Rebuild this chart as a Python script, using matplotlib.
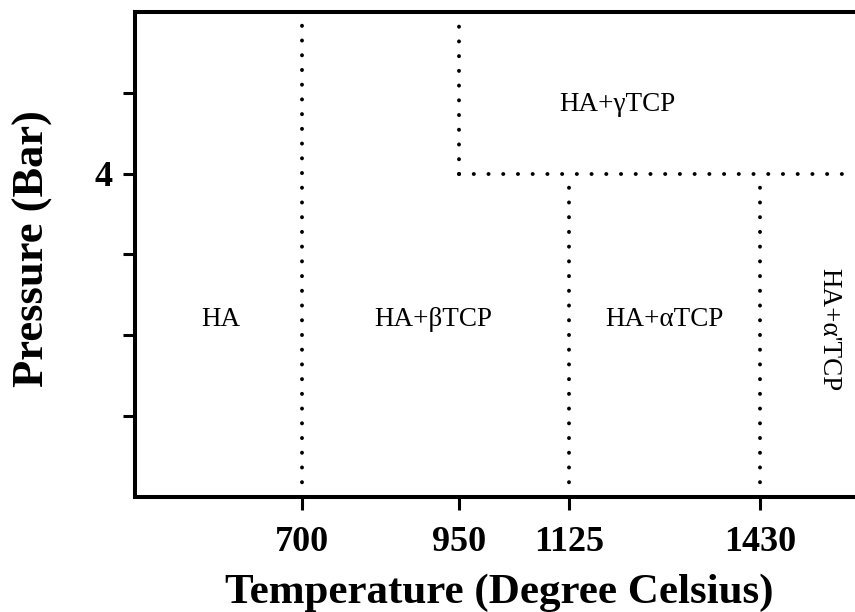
import matplotlib.pyplot as plt

# phase diagram data
x_ticks = [700, 950, 1125, 1430]
y_ticks = [1, 2, 3, 4, 5]
y_labels = ['', '', '', '4', '']

# boundaries (x, y from, y to)
bound_x = [700, 950, 1125, 1430]
bound_ylo = [0, 4, 0, 0]
bound_yhi = [6, 6, 4, 4]
# horizontal boundary at 4 bar, starting at 950
h_p = 4
h_x0 = 950

x_min, x_max = 434, 1581
y_min, y_max = 0, 6

phase_names = ['HA', 'HA+βTCP', 'HA+αTCP', 'HA+γTCP', "HA+α'TCP"]
phase_x = [570, 909, 1277, 1202, 1540]
phase_y = [2.2, 2.2, 2.2, 4.85, 2.07]
phase_rot = [0, 0, 0, 0, -90]

plt.rcParams['font.family'] = ['Liberation Serif', 'DejaVu Serif']

fig = plt.figure(figsize=(8.55, 6.12), dpi=100)
ax = fig.add_axes([0.158, 0.188, 0.842, 0.7925])

lw = 2.8
dots = (0, (0.04, 10.6 / lw - 0.04))
for x, lo, hi in zip(bound_x, bound_ylo, bound_yhi):
    ax.plot([x, x], [lo, hi], color='black', lw=lw, linestyle=dots,
            dash_capstyle='round')
ax.plot([h_x0, x_max], [h_p, h_p], color='black', lw=lw, linestyle=dots,
        dash_capstyle='round')

for name, x, y, r in zip(phase_names, phase_x, phase_y, phase_rot):
    ax.text(x, y, name, ha='center', va='center', rotation=r, fontsize=19.5)

ax.set_xlim(x_min, x_max)
ax.set_ylim(y_min, y_max)
ax.set_xticks(x_ticks)
ax.set_xticklabels([str(t) for t in x_ticks], fontsize=26, fontweight='bold')
ax.set_yticks(y_ticks)
ax.set_yticklabels(y_labels, fontsize=26, fontweight='bold')

ax.spines['right'].set_visible(False)
for s in ['left', 'bottom', 'top']:
    ax.spines[s].set_linewidth(2.9)
ax.tick_params(direction='out', length=9, width=2.2)
ax.tick_params(axis='x', pad=12)
ax.tick_params(axis='y', pad=7)

ax.set_xlabel('Temperature (Degree Celsius)', fontsize=31, fontweight='bold')
ax.xaxis.set_label_coords(0.506, -0.158)
ax.set_ylabel('Pressure (Bar)', fontsize=32, fontweight='bold')
ax.yaxis.set_label_coords(-0.114, 0.513)

fig.savefig('out.png', dpi=100)
